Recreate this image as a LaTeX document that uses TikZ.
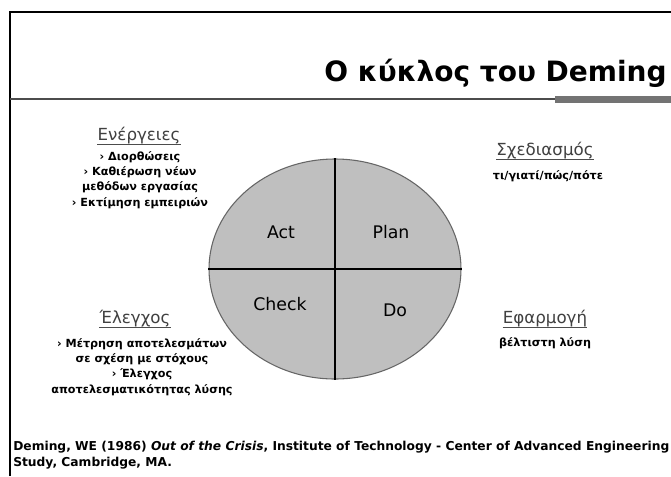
\documentclass[tikz,border=0pt]{standalone}
\usepackage{fontspec}
\usetikzlibrary{shapes.geometric}
\setmainfont{DejaVu Sans}
\begin{document}
\begin{tikzpicture}[x=0.75pt,y=-0.75pt,
  frameline/.style={line width=1.5pt,black},
  heading/.style={font=\fontsize{12.5}{14}\selectfont,text=black!75,inner sep=0pt,anchor=base},
  bodytext/.style={font=\bfseries\fontsize{8.4}{11.5}\selectfont,align=center,inner sep=0pt,anchor=north},
  stage/.style={font=\fontsize{13}{15}\selectfont,inner sep=0pt},
  ul/.style={line width=0.7pt,black!70}]
  \useasboundingbox (0,0) rectangle (671,476);
  \fill[white] (0,0) rectangle (671,476);
  % slide frame
  \draw[frameline] (10,476) -- (10,12) -- (671,12);
  % title and rule
  \node[font=\bfseries\fontsize{21}{26}\selectfont,anchor=base east,inner sep=0pt] (title) at (667,81) {Ο κύκλος του Deming};
  \coordinate (ruleL) at (10,99);
  \coordinate (ruleR) at (671,99);
  \draw[line width=1.2pt,black!70] (ruleL) -- (ruleR);
  \fill[black!55] (555,96) rectangle (671,103);
  % PDCA circle
  \node[ellipse,inner sep=0pt,minimum width=189pt,minimum height=165pt,
        fill=black!25,draw=black!60,line width=0.8pt] (c) at (335,269) {};
  \draw[line width=0.8pt] (c.north) -- (c.south);
  \draw[line width=0.8pt] (c.west) -- (c.east);
  \node[stage] (act) at (281,232) {Act};
  \node[stage] (plan) at (391,232) {Plan};
  \node[stage] (check) at (280,304) {Check};
  \node[stage] (do) at (395,310) {Do};
  % corner notes
  \node[heading] (h1) at (139,140) {Ενέργειες};
  \draw[ul] ([yshift=-3pt]h1.base west) -- ([yshift=-3pt]h1.base east);
  \node[bodytext] (t1) at (140,151) {› Διορθώσεις\\› Καθιέρωση νέων\\μεθόδων εργασίας\\› Εκτίμηση εμπειριών};
  \node[heading] (h2) at (545,155) {Σχεδιασμός};
  \draw[ul] ([yshift=-3pt]h2.base west) -- ([yshift=-3pt]h2.base east);
  \node[bodytext] (t2) at (548,170) {τι/γιατί/πώς/πότε};
  \node[heading] (h3) at (135,323) {Έλεγχος};
  \draw[ul] ([yshift=-3pt]h3.base west) -- ([yshift=-3pt]h3.base east);
  \node[bodytext] (t3) at (142,338) {› Μέτρηση αποτελεσμάτων\\σε σχέση με στόχους\\› Έλεγχος\\αποτελεσματικότητας λύσης};
  \node[heading] (h4) at (545,323) {Εφαρμογή};
  \draw[ul] ([yshift=-3pt]h4.base west) -- ([yshift=-3pt]h4.base east);
  \node[bodytext] (t4) at (545,337) {βέλτιστη λύση};
  % reference
  \node[font=\bfseries\fontsize{9.2}{12}\selectfont,anchor=north west,align=left,inner sep=0pt] (ref) at (13,441)
    {Deming, WE (1986) \textit{Out of the Crisis}, Institute of Technology - Center of Advanced Engineering\\Study, Cambridge, MA.};
\end{tikzpicture}
\end{document}
